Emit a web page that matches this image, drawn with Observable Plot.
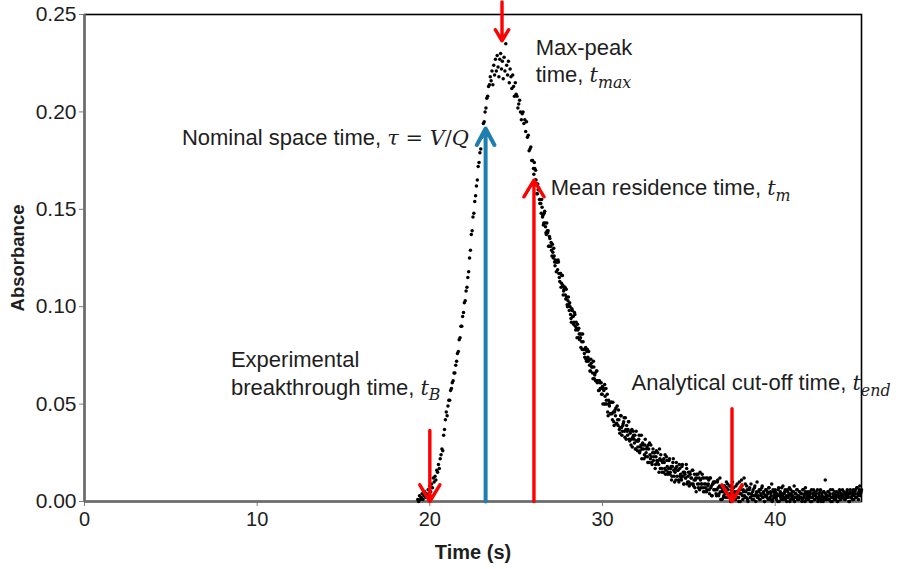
<!DOCTYPE html>
<html>
<head>
<meta charset="utf-8">
<script src="https://cdn.jsdelivr.net/npm/d3@7"></script>
<script src="https://cdn.jsdelivr.net/npm/@observablehq/plot@0.6"></script>
<style>
  html, body { margin: 0; padding: 0; background: #fff; }
  #chart svg { font-family: "Liberation Sans", Arial, sans-serif; }
  g[aria-label="x-axis label"] text, g[aria-label="y-axis label"] text { font-weight: bold; }
  g[aria-label="y-axis label"] text { font-size: 18.5px; }
</style>
</head>
<body>
<div id="chart"></div>
<script>
// ---------- data (time in s, absorbance) ----------
const timeTicks = [0, 10, 20, 30, 40];
const absorbanceTicks = [0, 0.05, 0.10, 0.15, 0.20, 0.25];

const risingEdge = [
  [19.30,0.001],[19.35,0.000],[19.40,0.003],[19.45,0.001],[19.50,0.002],[19.55,0.004],[19.60,0.001],[19.65,0.003],[19.70,0.005],[19.75,0.002],
  [19.80,0.004],[19.85,0.003],[19.90,0.006],[19.95,0.004],[20.00,0.008],[20.05,0.005],[20.10,0.009],[20.15,0.007],[20.20,0.012],[20.25,0.010],
  [20.30,0.013],[20.35,0.011],[20.40,0.016],[20.45,0.015],[20.50,0.019],[20.55,0.017],[20.60,0.022],[20.65,0.024],[20.70,0.027],[20.75,0.026],
  [20.80,0.034],[20.85,0.037],[20.90,0.042],[20.95,0.046],[21.00,0.044],[21.05,0.049],[21.10,0.052],[21.15,0.052],[21.20,0.057],[21.25,0.058],
  [21.30,0.061],[21.35,0.062],[21.40,0.066],[21.45,0.066],[21.50,0.070],[21.55,0.072],[21.60,0.076],[21.65,0.077],[21.70,0.083],[21.75,0.084],
  [21.80,0.090],[21.85,0.090],[21.90,0.095],[21.95,0.097],[22.00,0.102],[22.05,0.103],[22.10,0.108],[22.15,0.110],[22.20,0.115],[22.25,0.118],
  [22.30,0.125],[22.35,0.129],[22.40,0.137],[22.45,0.139],[22.50,0.146],[22.55,0.148],[22.60,0.154],[22.65,0.157],[22.70,0.162],[22.75,0.165],
  [22.80,0.172],[22.85,0.174],[22.90,0.179],[22.95,0.181],[23.00,0.187],[23.05,0.188],[23.10,0.194],[23.15,0.195],[23.20,0.200],[23.25,0.202],
  [23.30,0.207],[23.35,0.208],[23.40,0.213],[23.45,0.214],[23.50,0.218]
];

const peakRegion = [
  [23.55,0.216],[23.60,0.221],[23.65,0.214],[23.70,0.224],[23.75,0.219],[23.80,0.227],[23.85,0.221],[23.90,0.229],[23.95,0.223],[24.00,0.218],
  [24.05,0.227],[24.10,0.230],[24.15,0.222],[24.20,0.226],[24.25,0.217],[24.30,0.228],[24.35,0.221],[24.40,0.235],[24.45,0.224],[24.50,0.219],
  [24.55,0.226],[24.60,0.215],[24.65,0.222],[24.70,0.218],[24.75,0.212],[24.80,0.219],[24.85,0.213],[24.90,0.208],[24.95,0.215],[25.00,0.209]
];

const fallingEdge = [
  [25.05,0.208],[25.10,0.202],[25.15,0.204],[25.20,0.206],[25.25,0.200],[25.30,0.196],[25.35,0.199],[25.40,0.200],[25.45,0.194],[25.50,0.196],
  [25.55,0.190],[25.60,0.195],[25.65,0.187],[25.70,0.188],[25.75,0.180],[25.80,0.181],[25.85,0.182],[25.90,0.175],[25.95,0.175],[26.00,0.171],
  [26.05,0.174],[26.10,0.165],[26.15,0.165],[26.20,0.158],[26.25,0.163],[26.30,0.161],[26.35,0.155],[26.40,0.155],[26.45,0.148],[26.50,0.151],
  [26.55,0.147],[26.60,0.143],[26.65,0.149],[26.70,0.141],[26.75,0.137],[26.80,0.139],[26.85,0.139],[26.90,0.131],[26.95,0.135],[27.00,0.131],
  [27.05,0.129],[27.10,0.132],[27.15,0.125],[27.20,0.126],[27.25,0.121],[27.30,0.123],[27.35,0.123],[27.40,0.119],[27.45,0.123],[27.50,0.115],
  [27.55,0.117],[27.60,0.110],[27.65,0.116],[27.70,0.111],[27.75,0.108],[27.80,0.110],[27.85,0.106],[27.90,0.109],[27.95,0.101],[28.00,0.103],
  [28.05,0.101],[28.10,0.102],[28.15,0.096],[28.20,0.092],[28.25,0.098],[28.30,0.095],[28.35,0.092],[28.40,0.096],[28.45,0.088],[28.50,0.089],
  [28.55,0.091],[28.60,0.084],[28.65,0.086],[28.70,0.086],[28.75,0.079],[28.80,0.082],[28.85,0.086],[28.90,0.078],[28.95,0.076],[29.00,0.078],
  [29.05,0.073],[29.10,0.077],[29.15,0.074],[29.20,0.077],[29.25,0.070],[29.30,0.067],[29.35,0.071],[29.40,0.069],[29.45,0.063],[29.50,0.069],
  [29.55,0.065],[29.60,0.062],[29.65,0.067],[29.70,0.061],[29.75,0.062],[29.80,0.057],[29.85,0.061],[29.90,0.058],[29.95,0.055],[30.00,0.059]
];
const fallingEdgeInterleaved = [
  [26.025,0.168],[26.075,0.171],[26.125,0.170],[26.175,0.163],[26.225,0.158],[26.275,0.160],[26.325,0.160],[26.375,0.153],[26.425,0.153],[26.475,0.155],
  [26.525,0.146],[26.575,0.142],[26.625,0.148],[26.675,0.143],[26.725,0.138],[26.775,0.143],[26.825,0.138],[26.875,0.131],[26.925,0.136],[26.975,0.131],
  [27.025,0.133],[27.075,0.126],[27.125,0.128],[27.175,0.130],[27.225,0.123],[27.275,0.124],[27.325,0.118],[27.375,0.123],[27.425,0.124],[27.475,0.117],
  [27.525,0.113],[27.575,0.117],[27.625,0.112],[27.675,0.116],[27.725,0.106],[27.775,0.109],[27.825,0.110],[27.875,0.104],[27.925,0.105],[27.975,0.100],
  [28.025,0.105],[28.075,0.098],[28.125,0.100],[28.175,0.094],[28.225,0.099],[28.275,0.095],[28.325,0.091],[28.375,0.097],[28.425,0.090],[28.475,0.092],
  [28.525,0.084],[28.575,0.088],[28.625,0.089],[28.675,0.083],[28.725,0.084],[28.775,0.086],[28.825,0.078],[28.875,0.082],[28.925,0.078],[28.975,0.074],
  [29.025,0.079],[29.075,0.072],[29.125,0.078],[29.175,0.072],[29.225,0.073],[29.275,0.067],[29.325,0.073],[29.375,0.069],[29.425,0.066],[29.475,0.072],
  [29.525,0.063],[29.575,0.066],[29.625,0.062],[29.675,0.067],[29.725,0.062],[29.775,0.057],[29.825,0.062],[29.875,0.058],[29.925,0.061],[29.975,0.055]
];

const decayTail = [
  [30.05,0.058],[30.10,0.050],[30.15,0.054],[30.20,0.058],[30.25,0.050],[30.30,0.046],[30.35,0.052],[30.40,0.049],[30.45,0.045],[30.50,0.051],
  [30.55,0.045],[30.60,0.051],[30.65,0.041],[30.70,0.046],[30.75,0.044],[30.80,0.040],[30.85,0.049],[30.90,0.039],[30.95,0.042],[31.00,0.035],
  [31.05,0.044],[31.10,0.038],[31.15,0.036],[31.20,0.040],[31.25,0.043],[31.30,0.033],[31.35,0.037],[31.40,0.039],[31.45,0.034],[31.50,0.041],
  [31.55,0.032],[31.60,0.035],[31.65,0.029],[31.70,0.037],[31.75,0.033],[31.80,0.034],[31.85,0.030],[31.90,0.027],[31.95,0.036],[32.00,0.031],
  [32.05,0.028],[32.10,0.032],[32.15,0.025],[32.20,0.028],[32.25,0.034],[32.30,0.027],[32.35,0.029],[32.40,0.022],[32.45,0.029],[32.50,0.023],
  [32.55,0.027],[32.60,0.023],[32.65,0.029],[32.70,0.020],[32.75,0.024],[32.80,0.029],[32.85,0.020],[32.90,0.025],[32.95,0.021],[33.00,0.025],
  [33.05,0.017],[33.10,0.023],[33.15,0.021],[33.20,0.025],[33.25,0.019],[33.30,0.027],[33.35,0.017],[33.40,0.021],[33.45,0.015],[33.50,0.021],
  [33.55,0.022],[33.60,0.017],[33.65,0.014],[33.70,0.023],[33.75,0.018],[33.80,0.015],[33.85,0.021],[33.90,0.014],[33.95,0.017],[34.00,0.011],
  [34.05,0.018],[34.10,0.022],[34.15,0.013],[34.20,0.015],[34.25,0.011],[34.30,0.018],[34.35,0.016],[34.40,0.011],[34.45,0.019],[34.50,0.013],
  [34.55,0.012],[34.60,0.018],[34.65,0.013],[34.70,0.009],[34.75,0.015],[34.80,0.012],[34.85,0.019],[34.90,0.009],[34.95,0.013],[35.00,0.010],
  [35.05,0.015],[35.10,0.009],[35.15,0.012],[35.20,0.016],[35.25,0.009],[35.30,0.011],[35.35,0.007],[35.40,0.012],[35.45,0.014],[35.50,0.009],
  [35.55,0.007],[35.60,0.012],[35.65,0.015],[35.70,0.007],[35.75,0.009],[35.80,0.012],[35.85,0.005],[35.90,0.009],[35.95,0.007],[36.00,0.012],
  [36.05,0.006],[36.10,0.008],[36.15,0.011],[36.20,0.004],[36.25,0.012],[36.30,0.008],[36.35,0.003],[36.40,0.009],[36.45,0.006],[36.50,0.010],
  [36.55,0.006],[36.60,0.003],[36.65,0.010],[36.70,0.007],[36.75,0.004],[36.80,0.012],[36.85,0.001],[36.90,0.007],[36.95,0.005],[37.00,0.002],
  [37.05,0.008],[37.10,0.004],[37.15,0.002],[37.20,0.007],[37.25,0.009],[37.30,0.002],[37.35,0.004],[37.40,0.008],[37.45,0.000],[37.50,0.005],
  [37.55,0.002],[37.60,0.007],[37.65,0.004],[37.70,0.001],[37.75,0.005],[37.80,0.009],[37.85,0.002],[37.90,0.000],[37.95,0.004],[38.00,0.006]
];
const decayTailInterleaved = [
  [30.025,0.050],[30.075,0.057],[30.125,0.060],[30.175,0.050],[30.225,0.052],[30.275,0.055],[30.325,0.044],[30.375,0.050],[30.425,0.051],[30.475,0.045],
  [30.525,0.051],[30.575,0.042],[30.625,0.046],[30.675,0.039],[30.725,0.047],[30.775,0.048],[30.825,0.040],[30.875,0.042],[30.925,0.047],[30.975,0.037],
  [31.025,0.038],[31.075,0.044],[31.125,0.034],[31.175,0.039],[31.225,0.041],[31.275,0.036],[31.325,0.043],[31.375,0.032],[31.425,0.036],[31.475,0.037],
  [31.525,0.041],[31.575,0.031],[31.625,0.036],[31.675,0.032],[31.725,0.028],[31.775,0.036],[31.825,0.032],[31.875,0.034],[31.925,0.027],[31.975,0.031],
  [32.025,0.026],[32.075,0.031],[32.125,0.034],[32.175,0.026],[32.225,0.029],[32.275,0.022],[32.325,0.030],[32.375,0.027],[32.425,0.024],[32.475,0.032],
  [32.525,0.025],[32.575,0.028],[32.625,0.020],[32.675,0.027],[32.725,0.030],[32.775,0.022],[32.825,0.023],[32.875,0.019],[32.925,0.027],[32.975,0.023],
  [33.025,0.025],[33.075,0.019],[33.125,0.026],[33.175,0.020],[33.225,0.021],[33.275,0.015],[33.325,0.022],[33.375,0.024],[33.425,0.017],[33.475,0.020],
  [33.525,0.015],[33.575,0.020],[33.625,0.024],[33.675,0.016],[33.725,0.021],[33.775,0.014],[33.825,0.017],[33.875,0.022],[33.925,0.015],[33.975,0.018],
  [34.025,0.013],[34.075,0.020],[34.125,0.016],[34.175,0.010],[34.225,0.017],[34.275,0.020],[34.325,0.013],[34.375,0.016],[34.425,0.010],[34.475,0.017],
  [34.525,0.014],[34.575,0.011],[34.625,0.019],[34.675,0.015],[34.725,0.009],[34.775,0.014],[34.825,0.012],[34.875,0.017],[34.925,0.010],[34.975,0.015],
  [35.025,0.008],[35.075,0.014],[35.125,0.012],[35.175,0.009],[35.225,0.016],[35.275,0.008],[35.325,0.014],[35.375,0.011],[35.425,0.005],[35.475,0.012],
  [35.525,0.014],[35.575,0.009],[35.625,0.006],[35.675,0.011],[35.725,0.009],[35.775,0.014],[35.825,0.007],[35.875,0.012],[35.925,0.005],[35.975,0.009],
  [36.025,0.005],[36.075,0.012],[36.125,0.009],[36.175,0.006],[36.225,0.012],[36.275,0.007],[36.325,0.003],[36.375,0.009],[36.425,0.010],[36.475,0.006],
  [36.525,0.010],[36.575,0.004],[36.625,0.006],[36.675,0.011],[36.725,0.003],[36.775,0.008],[36.825,0.005],[36.875,0.008],[36.925,0.001],[36.975,0.006],
  [37.025,0.003],[37.075,0.008],[37.125,0.005],[37.175,0.010],[37.225,0.002],[37.275,0.006],[37.325,0.003],[37.375,0.008],[37.425,0.000],[37.475,0.006],
  [37.525,0.010],[37.575,0.002],[37.625,0.005],[37.675,0.001],[37.725,0.008],[37.775,0.004],[37.825,0.005],[37.875,0.002],[37.925,0.010],[37.975,0.000]
];

const baselineTail = [
  [38.05,0.011],[38.10,0.003],[38.15,0.006],[38.20,0.012],[38.25,0.002],[38.30,0.005],[38.35,0.008],[38.40,0.001],[38.45,0.004],[38.50,0.006],
  [38.55,0.002],[38.60,0.009],[38.65,0.003],[38.70,0.005],[38.75,0.001],[38.80,0.007],[38.85,0.003],[38.90,0.004],[38.95,0.010],[39.00,0.002],
  [39.05,0.005],[39.10,0.001],[39.15,0.006],[39.20,0.003],[39.25,0.008],[39.30,0.002],[39.35,0.004],[39.40,0.000],[39.45,0.006],[39.50,0.003],
  [39.55,0.005],[39.60,0.001],[39.65,0.007],[39.70,0.002],[39.75,0.004],[39.80,0.009],[39.85,0.001],[39.90,0.005],[39.95,0.003],[40.00,0.006],
  [40.05,0.002],[40.10,0.004],[40.15,0.000],[40.20,0.007],[40.25,0.003],[40.30,0.005],[40.35,0.001],[40.40,0.004],[40.45,0.008],[40.50,0.002],
  [40.55,0.005],[40.60,0.001],[40.65,0.003],[40.70,0.006],[40.75,0.002],[40.80,0.004],[40.85,0.000],[40.90,0.006],[40.95,0.003],[41.00,0.005],
  [41.05,0.001],[41.10,0.008],[41.15,0.002],[41.20,0.004],[41.25,0.006],[41.30,0.001],[41.35,0.003],[41.40,0.005],[41.45,0.002],[41.50,0.004],
  [41.55,0.000],[41.60,0.006],[41.65,0.002],[41.70,0.004],[41.75,0.007],[41.80,0.001],[41.85,0.003],[41.90,0.005],[41.95,0.002],[42.00,0.004],
  [42.05,0.000],[42.10,0.006],[42.15,0.002],[42.20,0.003],[42.25,0.005],[42.30,0.001],[42.35,0.004],[42.40,0.002],[42.45,0.006],[42.50,0.001],
  [42.55,0.003],[42.60,0.005],[42.65,0.000],[42.70,0.004],[42.75,0.002],[42.80,0.005],[42.85,0.001],[42.90,0.011],[42.95,0.003],[43.00,0.002],
  [43.05,0.005],[43.10,0.001],[43.15,0.003],[43.20,0.006],[43.25,0.002],[43.30,0.000],[43.35,0.004],[43.40,0.002],[43.45,0.005],[43.50,0.001],
  [43.55,0.003],[43.60,0.000],[43.65,0.004],[43.70,0.002],[43.75,0.005],[43.80,0.001],[43.85,0.003],[43.90,0.006],[43.95,0.002],[44.00,0.004],
  [44.05,0.001],[44.10,0.003],[44.15,0.005],[44.20,0.002],[44.25,0.004],[44.30,0.000],[44.35,0.006],[44.40,0.002],[44.45,0.003],[44.50,0.005],
  [44.55,0.001],[44.60,0.004],[44.65,0.006],[44.70,0.002],[44.75,0.007],[44.80,0.003],[44.85,0.005],[44.90,0.008],[44.95,0.004],[45.00,0.006]
];
const baselineTailInterleaved = [
  [38.025,0.004],[38.075,0.008],[38.125,0.001],[38.175,0.005],[38.225,0.003],[38.275,0.009],[38.325,0.002],[38.375,0.006],[38.425,0.000],[38.475,0.004],
  [38.525,0.007],[38.575,0.002],[38.625,0.004],[38.675,0.001],[38.725,0.006],[38.775,0.003],[38.825,0.008],[38.875,0.000],[38.925,0.005],[38.975,0.002],
  [39.025,0.003],[39.075,0.006],[39.125,0.001],[39.175,0.004],[39.225,0.007],[39.275,0.002],[39.325,0.005],[39.375,0.000],[39.425,0.003],[39.475,0.006],
  [39.525,0.002],[39.575,0.004],[39.625,0.007],[39.675,0.001],[39.725,0.005],[39.775,0.003],[39.825,0.000],[39.875,0.006],[39.925,0.002],[39.975,0.004],
  [40.025,0.005],[40.075,0.001],[40.125,0.003],[40.175,0.006],[40.225,0.000],[40.275,0.004],[40.325,0.002],[40.375,0.007],[40.425,0.003],[40.475,0.001],
  [40.525,0.004],[40.575,0.006],[40.625,0.002],[40.675,0.000],[40.725,0.005],[40.775,0.003],[40.825,0.007],[40.875,0.001],[40.925,0.004],[40.975,0.002],
  [41.025,0.003],[41.075,0.005],[41.125,0.000],[41.175,0.004],[41.225,0.002],[41.275,0.006],[41.325,0.003],[41.375,0.001],[41.425,0.005],[41.475,0.002],
  [41.525,0.004],[41.575,0.001],[41.625,0.006],[41.675,0.003],[41.725,0.000],[41.775,0.005],[41.825,0.002],[41.875,0.004],[41.925,0.001],[41.975,0.003],
  [42.025,0.005],[42.075,0.002],[42.125,0.000],[42.175,0.004],[42.225,0.006],[42.275,0.001],[42.325,0.003],[42.375,0.005],[42.425,0.002],[42.475,0.000],
  [42.525,0.004],[42.575,0.002],[42.625,0.006],[42.675,0.001],[42.725,0.003],[42.775,0.000],[42.825,0.005],[42.875,0.002],[42.925,0.004],[42.975,0.001],
  [43.025,0.003],[43.075,0.005],[43.125,0.001],[43.175,0.004],[43.225,0.000],[43.275,0.002],[43.325,0.006],[43.375,0.003],[43.425,0.001],[43.475,0.004],
  [43.525,0.002],[43.575,0.005],[43.625,0.000],[43.675,0.003],[43.725,0.006],[43.775,0.001],[43.825,0.004],[43.875,0.002],[43.925,0.003],[43.975,0.005],
  [44.025,0.001],[44.075,0.004],[44.125,0.002],[44.175,0.006],[44.225,0.003],[44.275,0.000],[44.325,0.005],[44.375,0.002],[44.425,0.004],[44.475,0.001],
  [44.525,0.006],[44.575,0.003],[44.625,0.005],[44.675,0.002],[44.725,0.007],[44.775,0.004],[44.825,0.001],[44.875,0.006],[44.925,0.003],[44.975,0.005]
];

// characteristic-time markers (arrows): time, start absorbance, end absorbance
const redMarkers = [
  {t: 24.18, from: 0.2565, to: 0.2365},  // max-peak time (pointing down)
  {t: 20.00, from: 0.0365, to: 0.0},     // breakthrough time (down)
  {t: 26.03, from: 0.0,    to: 0.1650},  // mean residence time (up)
  {t: 37.50, from: 0.0476, to: 0.0}      // analytical cut-off (down)
];
const blueMarkers = [
  {t: 23.23, from: 0.0, to: 0.1915}      // nominal space time (up)
];

// annotation lines: anchor time, baseline absorbance, text ([math|subscript])
const annotationTime = [26.13, 26.13, 5.64, 27.0, 8.48, 8.48, 31.68];
const annotationAbs  = [0.2290, 0.2151, 0.1828, 0.1571, 0.0693, 0.0549, 0.0570];
const annotationText = [
  "Max-peak",
  "time, [t|max]",
  "Nominal space time, [τ = V/Q]",
  "Mean residence time, [t|m]",
  "Experimental",
  "breakthrough time, [t|B]",
  "Analytical cut-off time, [t|end]"
];

// ---------- build ----------
const points = [...risingEdge, ...peakRegion, ...fallingEdge, ...fallingEdgeInterleaved,
  ...decayTail, ...decayTailInterleaved, ...baselineTail, ...baselineTailInterleaved]
  .map(([time, absorbance]) => ({time, absorbance}));
const annotations = annotationText.map((text, i) => ({t: annotationTime[i], a: annotationAbs[i], text}));

const axisStroke = "#7f7f7f";
const chart = Plot.plot({
  width: 906,
  height: 569,
  marginLeft: 84,
  marginRight: 45,
  marginTop: 14,
  marginBottom: 68,
  style: {fontFamily: "'Liberation Sans', Arial, sans-serif", background: "#fff", color: "#1e1e1e", overflow: "visible"},
  x: {domain: [0, 45]},
  y: {domain: [0, 0.25]},
  marks: [
    Plot.frame({stroke: "#000", strokeWidth: 1.6}),
    Plot.axisX(timeTicks, {tickSize: 5, tickPadding: 5, stroke: axisStroke, fontSize: 20,
      label: "Time (s)", labelAnchor: "center", labelOffset: 57, labelArrow: "none"}),
    Plot.axisY(absorbanceTicks, {tickSize: 5, tickPadding: 3, stroke: axisStroke, fontSize: 21,
      tickFormat: d3.format(".2f"), label: "Absorbance", labelAnchor: "center", labelOffset: 74, labelArrow: "none"}),
    Plot.ruleX([0], {stroke: "#6b6b6b", strokeWidth: 2.5}),
    Plot.ruleY([0], {stroke: "#6b6b6b", strokeWidth: 2.5}),
    Plot.dot(points, {x: "time", y: "absorbance", r: 1.75, fill: "#000"}),
    Plot.arrow(blueMarkers, {x1: "t", y1: "from", x2: "t", y2: "to", stroke: "#1f7eb0", strokeWidth: 4,
      headLength: 7, headAngle: 56}),
    Plot.arrow(redMarkers, {x1: "t", y1: "from", x2: "t", y2: "to", stroke: "#ff0000", strokeWidth: 3.4,
      headLength: 8.6, headAngle: 62}),
    Plot.text(annotations, {x: "t", y: "a", text: "text", textAnchor: "start", lineAnchor: "bottom",
      fontSize: 22, fill: "#1e1e1e"})
  ]
});

// render math parts (italic serif variable, subscript)
const NS = "http://www.w3.org/2000/svg";
const mathFont = "'DejaVu Serif', 'Liberation Serif', serif";
chart.querySelectorAll("text").forEach(el => {
  if (el.children.length) return;
  const s = el.textContent;
  const m = s.match(/^(.*?)\[(.+?)(?:\|(.+?))?\]$/);
  if (!m) return;
  el.textContent = "";
  const span = (txt, attrs = {}) => {
    const ts = document.createElementNS(NS, "tspan");
    ts.textContent = txt;
    for (const k in attrs) ts.setAttribute(k, attrs[k]);
    el.appendChild(ts);
  };
  span(m[1]);
  for (const part of m[2].split(/(\s*[=\/]\s*)/).filter(Boolean)) {
    if (/[=\/]/.test(part)) span(part.includes("=") ? "\u00a0=\u00a0" : "/", {"font-family": mathFont, "font-size": "0.95em"});
    else span(part, {"font-family": mathFont, "font-style": "italic", "font-size": "0.95em"});
  }
  if (m[3]) span(m[3], {"font-family": mathFont, "font-style": "italic", "font-size": "0.72em", dy: "0.32em"});
});

document.getElementById("chart").appendChild(chart);
</script>
</body>
</html>
